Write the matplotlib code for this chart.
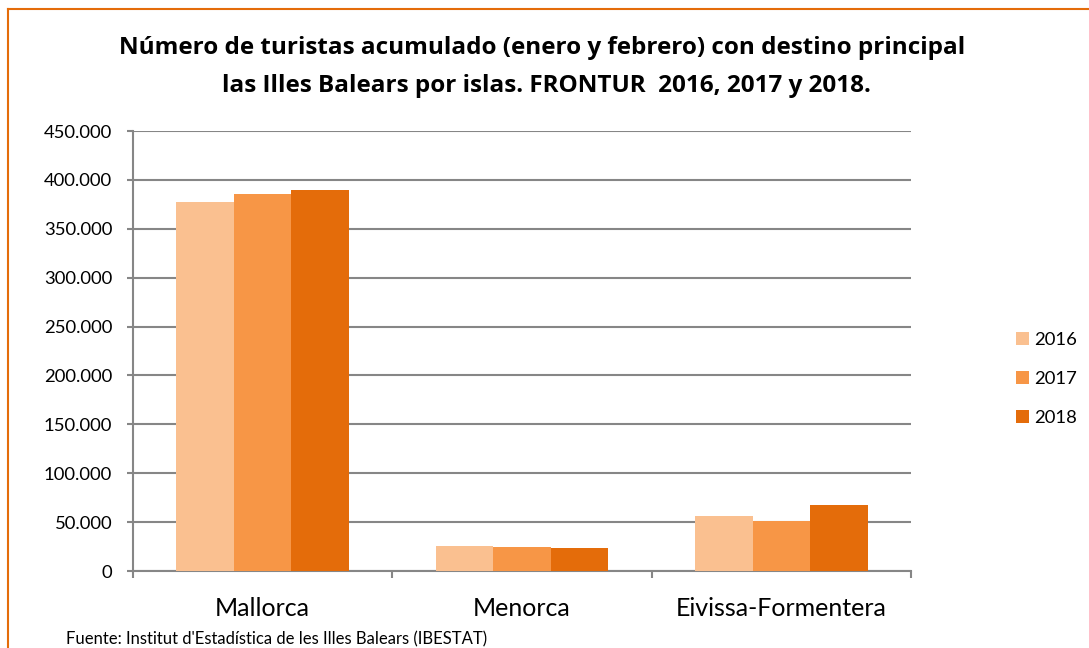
import matplotlib.pyplot as plt
import numpy as np
from matplotlib.lines import Line2D
from matplotlib.ticker import FuncFormatter

plt.rcParams['font.family'] = ['Lato', 'DejaVu Sans']

islas = ['Mallorca', 'Menorca', 'Eivissa-Formentera']
anios = ['2016', '2017', '2018']
v2016 = [377400, 25900, 56500]
v2017 = [385500, 24500, 51400]
v2018 = [389600, 23800, 67500]
colores = ['#FAC090', '#F79646', '#E46C0A']

fig = plt.figure(figsize=(10.89, 6.48), dpi=100)
ax = fig.add_axes([133 / 1089, 1 - 571 / 648, 778 / 1089, 440 / 648])

x = np.arange(len(islas))
w = 0.667 / 3
for i, (vals, c) in enumerate(zip([v2016, v2017, v2018], colores)):
    ax.bar(x + (i - 1) * w, vals, w, color=c, label=anios[i], zorder=3)

ax.set_xlim(-0.5, 2.5)
ax.set_ylim(0, 450000)
ax.set_yticks(np.arange(0, 450001, 50000))
ax.yaxis.set_major_formatter(FuncFormatter(lambda v, p: '0' if v == 0 else f'{int(v):,}'.replace(',', '.')))
ax.set_xticks(x)
ax.set_xticklabels(islas, fontsize=18)
ax.set_xticks([-0.5, 0.5, 1.5, 2.5], minor=True)
ax.tick_params(axis='x', which='major', length=0, pad=19)
ax.tick_params(axis='x', which='minor', length=5, width=1.5, color='#868686', direction='out')
ax.tick_params(axis='y', length=4.5, width=1.5, color='#868686', labelsize=13.3, pad=10.5)
ax.grid(axis='y', color='#868686', linewidth=1.5, zorder=0)
for s in ['top', 'right']:
    ax.spines[s].set_visible(False)
for s in ['left', 'bottom']:
    ax.spines[s].set_color('#868686')
    ax.spines[s].set_linewidth(1.5)

fig.text(542 / 1089, 1 - 48 / 648, 'Número de turistas acumulado (enero y febrero) con destino principal',
         ha='center', va='center', fontsize=17.5, fontweight='bold', family=['Open Sans', 'DejaVu Sans'])
fig.text(546 / 1089, 1 - 86 / 648, 'las Illes Balears por islas. FRONTUR  2016, 2017 y 2018.',
         ha='center', va='center', fontsize=17.5, fontweight='bold', family=['Open Sans', 'DejaVu Sans'])

leg = fig.legend(loc='center left', bbox_to_anchor=(1016 / 1089, 1 - 379 / 648), frameon=False,
                 fontsize=13.3, handlelength=0.7, handleheight=0.7, handletextpad=0.3,
                 labelspacing=1.25, borderpad=0, borderaxespad=0)

fig.text(66 / 1089, 1 / 648, "Fuente: Institut d'Estadística de les Illes Balears (IBESTAT)",
         ha='left', va='bottom', fontsize=12)

# marco naranja
fig.add_artist(Line2D([8 / 1089, 8 / 1089], [0, 1 - 9 / 648], color='#E46C0A', linewidth=1.5))
fig.add_artist(Line2D([8 / 1089, 1], [1 - 9 / 648, 1 - 9 / 648], color='#E46C0A', linewidth=1.5))

fig.savefig('out.png', dpi=100)
